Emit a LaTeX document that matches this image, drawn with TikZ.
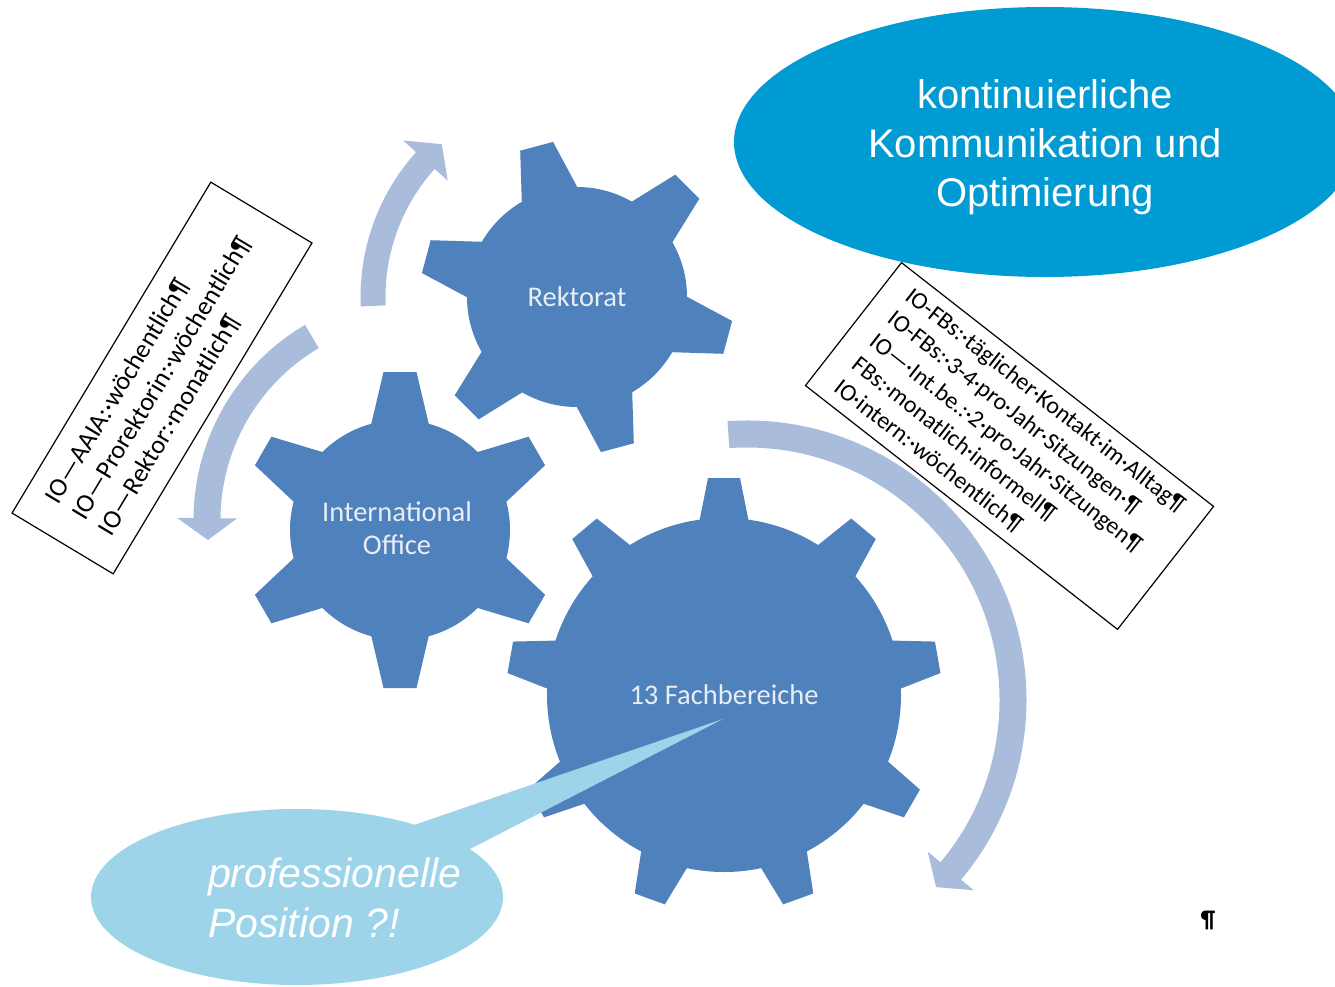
\documentclass[tikz,border=0pt]{standalone}
\usepackage{fontspec}
\setmainfont{Carlito}
\newfontfamily\arialfont{Liberation Sans}
\usetikzlibrary{calc}
\definecolor{gearblue}{RGB}{79,129,189}
\definecolor{arrblue}{RGB}{170,188,219}
\definecolor{ovalblue}{RGB}{0,155,210}
\definecolor{callblue}{RGB}{157,212,234}
\definecolor{geartext}{RGB}{232,238,246}
% #1 centre, #2 radius, #3 half shaft width, #4 tail angle, #5 head base angle, #6 tip angle
\newcommand{\curvarr}[6]{%
  \pgfmathsetmacro\myro{#2+#3}\pgfmathsetmacro\myri{#2-#3}%
  \pgfmathsetmacro\mybo{#2+30}\pgfmathsetmacro\mybi{#2-30}%
  \fill[arrowfill] ($(#1)+(#4:\myro)$) arc[start angle=#4, end angle=#5, radius=\myro]
    -- ($(#1)+(#5:\mybo)$) -- ($(#1)+(#6:#2)$) -- ($(#1)+(#5:\mybi)$)
    -- ($(#1)+(#5:\myri)$) arc[start angle=#5, end angle=#4, radius=\myri] -- cycle;}
\begin{document}
\begin{tikzpicture}[x=1pt,y=-1pt,
  arrowfill/.style={fill=arrblue},
  gearfill/.style={fill=gearblue},
  geartxt/.style={text=geartext, font=\fontsize{28.5}{33}\selectfont, align=center, inner sep=0pt},
  infobox/.style={draw=black, line width=1.2pt, fill=white, align=left, inner sep=0pt},
  ovaltxt/.style={text=white, font=\arialfont\fontsize{40}{49}\selectfont, align=center, inner sep=0pt},
  calltxt/.style={text=white, font=\arialfont\itshape\fontsize{41}{50}\selectfont, inner sep=0pt}]
\useasboundingbox (0,0) rectangle (1335,987);
\clip (0,0) rectangle (1335,987);
\fill[white] (0,0) rectangle (1335,987);

% centres
\coordinate (cR) at (577,297);
\coordinate (cI) at (400,530);
\coordinate (cF) at (724,695);
\coordinate (aA) at (577,297);
\coordinate (aB) at (420,520);
\coordinate (aC) at (747,700);

% curved arrows
\curvarr{aA}{204}{12.5}{177.5}{222}{228.5}
\curvarr{aB}{213}{13.5}{239.5}{180.5}{174.6}
\curvarr{aC}{266}{13.5}{-94}{40}{44.7}

% gear Rektorat
\foreach \a in {105,45,-15,-75,-135,165}
  \fill[gearfill,shift={(cR)},rotate=\a] (90,-32.5) -- (156,-17) -- (156,17) -- (90,32.5) -- cycle;
\fill[gearfill] (cR) circle[radius=110];
% gear International Office
\foreach \a in {90,30,-30,-90,-150,150}
  \fill[gearfill,shift={(cI)},rotate=\a] (90,-32.5) -- (158,-16.5) -- (158,16.5) -- (90,32.5) -- cycle;
\fill[gearfill] (cI) circle[radius=110];
% gear Fachbereiche
\foreach \a in {90,50,10,-30,-70,-110,-150,170,130}
  \fill[gearfill,shift={(cF)},rotate=\a] (157,-28) -- (217,-16) -- (217,16) -- (157,28) -- cycle;
\fill[gearfill] (cF) circle[radius=177];

\node[geartxt] (rek) at (577,297) {Rektorat};
\node[geartxt] (io) at (397,528) {International\\Office};
\node[geartxt] (fb) at (724,695) {13 Fachbereiche};

% text boxes
\node[infobox, rotate=59, minimum width=386pt, minimum height=118pt,
      font=\fontsize{26}{31}\selectfont] (lbox) at (162,378)
  {IO—AAIA:·wöchentlich¶\\IO—Prorektorin:·wöchentlich¶\\IO—Rektor:·monatlich¶};
\node[infobox, rotate=-38, minimum width=396pt, minimum height=156pt,
      font=\fontsize{24}{29}\selectfont] (rbox) at (1009.5,446)
  {IO-FBs:·täglicher·Kontakt·im·Alltag¶\\IO-FBs:·3-4·pro·Jahr·Sitzungen·¶\\IO—·Int.be.:·2·pro·Jahr·Sitzungen¶\\FBs:·monatlich·informell¶\\IO·intern:·wöchentlich¶};

% top oval
\fill[ovalblue] (1045,142) ellipse[x radius=311, y radius=135];
\node[ovaltxt] (kont) at (1045,147) {kontinuierliche\\Kommunikation und\\Optimierung};

% callout
\fill[callblue] (297,897) ellipse[x radius=206, y radius=88];
\fill[callblue] (414,825) -- (723,719) -- (470,849) -- cycle;
\node[calltxt, anchor=base west] (pro1) at (208,887) {professionelle};
\node[calltxt, anchor=base west] (pro2) at (208,937) {Position ?!};

% pilcrow
\node[font=\bfseries\fontsize{24}{24}\selectfont, inner sep=0pt] (pil) at (1208,920) {¶};
\end{tikzpicture}
\end{document}
